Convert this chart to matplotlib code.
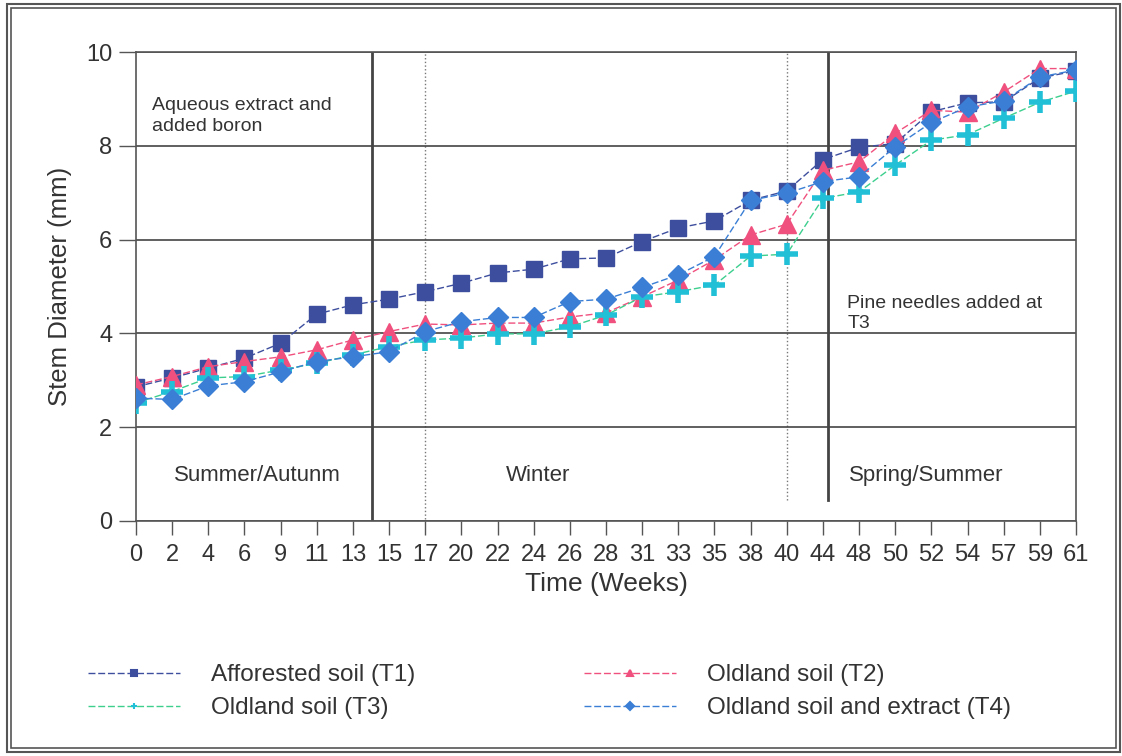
import matplotlib.pyplot as plt
from matplotlib.patches import Rectangle

plt.rcParams['font.family'] = ['Liberation Sans', 'DejaVu Sans']

# sampling weeks (plotted as evenly spaced categories)
weeks = ['0', '2', '4', '6', '9', '11', '13', '15', '17', '20', '22', '24', '26', '28',
         '31', '33', '35', '38', '40', '44', '48', '50', '52', '54', '57', '59', '61']

t1 = [2.86, 3.05, 3.26, 3.47, 3.79, 4.41, 4.61, 4.73, 4.89, 5.07, 5.29, 5.37, 5.59, 5.61,
      5.96, 6.25, 6.40, 6.84, 7.04, 7.71, 7.97, 8.05, 8.73, 8.92, 8.94, 9.45, 9.60]
t2 = [2.90, 3.08, 3.29, 3.40, 3.50, 3.65, 3.86, 4.04, 4.20, 4.18, 4.22, 4.22, 4.35, 4.44,
      4.78, 5.14, 5.57, 6.10, 6.33, 7.48, 7.66, 8.27, 8.76, 8.72, 9.15, 9.65, 9.65]
t3 = [2.52, 2.76, 3.05, 3.08, 3.22, 3.36, 3.54, 3.72, 3.86, 3.90, 3.99, 3.99, 4.14, 4.39,
      4.78, 4.89, 5.03, 5.65, 5.69, 6.88, 7.02, 7.59, 8.12, 8.24, 8.59, 8.93, 9.17]
t4 = [2.62, 2.59, 2.88, 2.97, 3.18, 3.40, 3.50, 3.61, 4.04, 4.25, 4.34, 4.34, 4.68, 4.73,
      4.98, 5.25, 5.64, 6.84, 6.99, 7.24, 7.34, 7.98, 8.50, 8.83, 8.96, 9.47, 9.62]

x = list(range(len(weeks)))
ink = '#333333'

fig = plt.figure(figsize=(11.22, 7.56), dpi=100)
ax = fig.add_axes([0.1212, 0.311, 0.8378, 0.620])

# season / treatment separators
ax.plot([6.52, 6.52], [0, 10], color='#444444', lw=2, zorder=1)
ax.plot([19.14, 19.14], [0.45, 10], color='#444444', lw=2, zorder=1)
ax.plot([8, 8], [0.05, 10], color='#777777', lw=1, ls=':', zorder=1)
ax.plot([18, 18], [0.45, 10], color='#777777', lw=1, ls=':', zorder=1)

dash = (0, (5, 2))
l1, = ax.plot(x, t1, color='#3d4e9e', ls=dash, lw=1, marker='s', ms=11,
              label='Afforested soil (T1)', zorder=3)
l2, = ax.plot(x, t2, color='#f0507e', ls=dash, lw=1, marker='^', ms=13,
              label='Oldland soil (T2)', zorder=4)
l3, = ax.plot(x, t3, color='#3ccf8e', ls=dash, lw=1, marker='+', ms=16, mew=4,
              mec='#22c0d6', label='Oldland soil (T3)', zorder=5)
l4, = ax.plot(x, t4, color='#3a7fd5', ls=dash, lw=1, marker='D', ms=10,
              label='Oldland soil and extract (T4)', zorder=6)

ax.set_xlim(0, 26)
ax.set_ylim(0, 10)
ax.set_xticks(x)
ax.set_xticklabels(weeks)
ax.set_yticks([0, 2, 4, 6, 8, 10])
ax.tick_params(axis='y', length=12, width=1, colors='#555555', labelcolor=ink,
               labelsize=17, pad=5)
ax.tick_params(axis='x', length=10, width=1, colors='#555555', labelcolor=ink,
               labelsize=17, pad=7)
ax.grid(axis='y', color='#444444', lw=1.2)
for s in ax.spines.values():
    s.set_color('#555555')
    s.set_linewidth(1.2)

ax.set_xlabel('Time (Weeks)', fontsize=19, color=ink, labelpad=4)
ax.set_ylabel('Stem Diameter (mm)', fontsize=18.5, color=ink, labelpad=10)

tkw = dict(color=ink, fontsize=14, linespacing=1.25)
ax.text(0.44, 8.64, 'Aqueous extract and\nadded boron', va='center', ha='left', **tkw)
ax.text(19.67, 4.43, 'Pine needles added at\nT3', va='center', ha='left', **tkw)
ax.text(3.37, 0.96, 'Summer/Autunm', va='center', ha='center', color=ink, fontsize=16)
ax.text(11.12, 0.96, 'Winter', va='center', ha='center', color=ink, fontsize=16)
ax.text(21.85, 0.96, 'Spring/Summer', va='center', ha='center', color=ink, fontsize=16)

leg = fig.legend(handles=[l1, l3, l2, l4], ncol=2, loc='upper left',
                 bbox_to_anchor=(0.0588, 0.150), frameon=False, fontsize=17.5,
                 handlelength=3.8, handletextpad=1.25,
                 columnspacing=6.95, labelspacing=0.45, labelcolor=ink)
for h in leg.legend_handles:
    h.set_markersize(5)
    h.set_markeredgewidth(1.5)
leg.legend_handles[3].set_markersize(4)

# double frame around the figure
fig.patches.append(Rectangle((7 / 1122, 4 / 756), 1113 / 1122, 748 / 756,
                             transform=fig.transFigure, fill=False,
                             ec='#555555', lw=1.5))
fig.patches.append(Rectangle((11 / 1122, 8 / 756), 1105 / 1122, 740 / 756,
                             transform=fig.transFigure, fill=False,
                             ec='#555555', lw=1.2))

fig.savefig('out.png', dpi=100)
